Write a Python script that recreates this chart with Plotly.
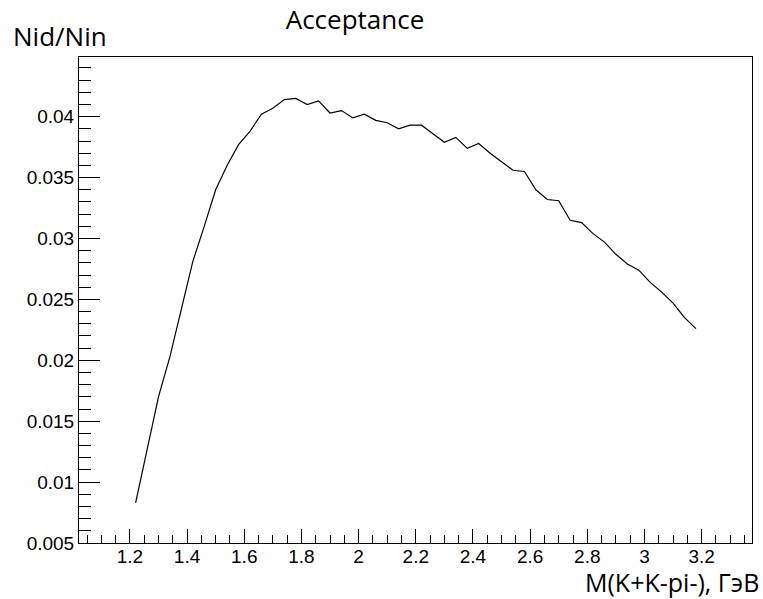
import plotly.graph_objects as go

# Data (bin centres, GeV) and acceptance Nid/Nin
mass = [1.22 + 0.04 * k for k in range(50)]
acceptance = [
    0.0083, 0.0127, 0.0170, 0.0203, 0.0242, 0.0281, 0.0310, 0.0340, 0.0360, 0.0377,
    0.0388, 0.0402, 0.0407, 0.0414, 0.0415, 0.0410, 0.0413, 0.0403, 0.0405, 0.0399,
    0.0402, 0.0397, 0.0395, 0.0390, 0.0393, 0.0393, 0.0386, 0.0379, 0.0383, 0.0374,
    0.0378, 0.0370, 0.0363, 0.0356, 0.0355, 0.0340, 0.0332, 0.0331, 0.0315, 0.0313,
    0.0304, 0.0297, 0.0287, 0.0279, 0.0274, 0.0264, 0.0256, 0.0247, 0.0235, 0.0226,
]

x_tickvals = [1.2, 1.4, 1.6, 1.8, 2.0, 2.2, 2.4, 2.6, 2.8, 3.0, 3.2]
x_ticktext = ["1.2", "1.4", "1.6", "1.8", "2", "2.2", "2.4", "2.6", "2.8", "3", "3.2"]
y_tickvals = [0.005, 0.01, 0.015, 0.02, 0.025, 0.03, 0.035, 0.04]
y_ticktext = ["0.005", "0.01", "0.015", "0.02", "0.025", "0.03", "0.035", "0.04"]

title_text = "Acceptance"
x_title = "M(K+K-pi-), ГэВ"
y_title = "Nid/Nin"

fig = go.Figure()
fig.add_trace(go.Scatter(x=mass, y=acceptance, mode="lines",
                         line=dict(color="black", width=1.2), showlegend=False))

tick_font = dict(family="Liberation Sans, Arial, sans-serif", size=19, color="black")
label_font = dict(family="Open Sans, sans-serif", size=25, color="black")

fig.update_layout(
    width=763, height=599,
    margin=dict(l=79, r=11, t=57, b=56),
    paper_bgcolor="white", plot_bgcolor="white",
    title=dict(text=title_text, x=355 / 763, xref="container", xanchor="center",
               y=1 - 20 / 599, yref="container", yanchor="middle",
               font=dict(family="Open Sans, sans-serif", size=26, color="black")),
    xaxis=dict(range=[1.022, 3.376], showgrid=False, zeroline=False,
               showline=True, linecolor="black", linewidth=1, mirror=True,
               tickmode="array", tickvals=x_tickvals, ticktext=x_ticktext,
               ticks="inside", ticklen=14, tickwidth=1, tickcolor="black",
               ticklabelstandoff=-4,
               minor=dict(ticks="inside", ticklen=8, tickwidth=1, tickcolor="black",
                          dtick=0.05, tick0=1.0, showgrid=False),
               tickfont=tick_font),
    yaxis=dict(range=[0.005, 0.0449], showgrid=False, zeroline=False,
               showline=True, linecolor="black", linewidth=1, mirror=True,
               tickmode="array", tickvals=y_tickvals, ticktext=y_ticktext,
               ticks="inside", ticklen=21, tickwidth=1, tickcolor="black",
               minor=dict(ticks="inside", ticklen=12, tickwidth=1, tickcolor="black",
                          dtick=0.001, tick0=0.0, showgrid=False),
               tickfont=tick_font),
    annotations=[
        dict(text=y_title, xref="paper", yref="paper",
             x=(11 - 79) / 673, y=(543 - 36) / 486, xanchor="left", yanchor="middle",
             showarrow=False, font=dict(family="Open Sans, sans-serif", size=26, color="black")),
        dict(text=x_title, xref="paper", yref="paper",
             x=(761 - 79) / 673, y=(543 - 582) / 486, xanchor="right", yanchor="middle",
             showarrow=False, font=label_font),
    ],
)

fig.write_html("out.html")
